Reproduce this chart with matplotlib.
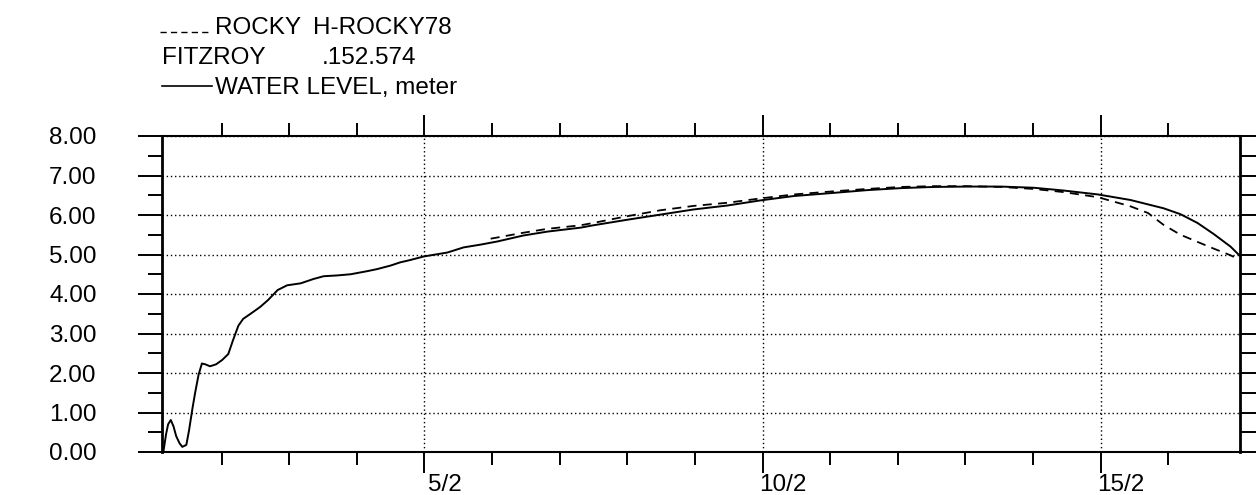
import matplotlib
matplotlib.use("Agg")
import matplotlib.pyplot as plt
from matplotlib.lines import Line2D
from matplotlib.transforms import ScaledTranslation
from matplotlib.ticker import FixedLocator

plt.rcParams['font.family'] = ['Liberation Sans', 'DejaVu Sans']

# Time axis in days of February (5.0 = 5/2 00:00)
day_level = [1.14, 1.18, 1.21, 1.25, 1.29, 1.33, 1.38, 1.42, 1.48, 1.52,
             1.57, 1.61, 1.66, 1.71, 1.76, 1.83, 1.92, 2.01, 2.10, 2.17,
             2.25, 2.32, 2.43, 2.57, 2.69, 2.83, 2.97, 3.17, 3.36, 3.51,
             3.71, 3.91, 4.16, 4.30, 4.50, 4.64, 4.79, 4.99, 5.34, 5.58,
             5.83, 6.08, 6.46, 6.82, 7.31, 7.50, 8.00, 8.49, 8.98, 9.48,
             9.97, 10.46, 11.05, 11.55, 12.04, 12.53, 13.03, 13.52, 14.01, 14.45,
             14.96, 15.44, 15.93, 16.18, 16.43, 16.67, 16.92, 17.05]
level = [0.00, 0.45, 0.70, 0.81, 0.65, 0.40, 0.22, 0.13, 0.18, 0.55,
         1.10, 1.50, 1.95, 2.24, 2.22, 2.17, 2.22, 2.33, 2.48, 2.83,
         3.20, 3.37, 3.50, 3.67, 3.85, 4.10, 4.22, 4.27, 4.38, 4.45,
         4.47, 4.50, 4.58, 4.63, 4.72, 4.80, 4.86, 4.95, 5.05, 5.18,
         5.25, 5.33, 5.48, 5.58, 5.68, 5.74, 5.88, 6.01, 6.14, 6.24,
         6.37, 6.48, 6.56, 6.63, 6.68, 6.71, 6.72, 6.72, 6.69, 6.62,
         6.52, 6.38, 6.17, 6.02, 5.80, 5.52, 5.20, 4.98]

# ROCKY H-ROCKY78 simulated level
day_rocky = [5.98, 6.46, 6.82, 7.31, 7.50, 8.00, 8.49, 8.98, 9.48, 9.97,
             10.46, 11.05, 11.55, 12.04, 12.53, 13.03, 13.52, 14.01, 14.45, 14.96,
             15.19, 15.44, 15.70, 15.93, 16.18, 16.43, 16.67, 16.92, 17.05]
rocky = [5.40, 5.55, 5.65, 5.74, 5.80, 5.97, 6.12, 6.23, 6.31, 6.42,
         6.52, 6.60, 6.66, 6.71, 6.73, 6.73, 6.71, 6.66, 6.58, 6.45,
         6.34, 6.22, 6.05, 5.75, 5.50, 5.32, 5.15, 4.98, 4.87]

x_major = [5, 10, 15]
x_major_labels = ['5/2', '10/2', '15/2']
x_minor = [2, 3, 4, 6, 7, 8, 9, 11, 12, 13, 14, 16]
y_major = [0, 1, 2, 3, 4, 5, 6, 7, 8]
y_major_labels = ['0.00', '1.00', '2.00', '3.00', '4.00', '5.00', '6.00', '7.00', '8.00']
y_half = [0.5, 1.5, 2.5, 3.5, 4.5, 5.5, 6.5, 7.5]

W, H = 1256, 495
fig = plt.figure(figsize=(W / 100, H / 100), dpi=100)
fig.patch.set_facecolor('white')


def fx(x):
    return x / W


def fy(y):
    return 1 - y / H


ax = fig.add_axes([fx(162), fy(452), (1240 - 162) / W, (452 - 136) / H])
ax.set_xlim(1.12, 17.06)
ax.set_ylim(0, 8)

ax.plot(day_level, level, color='black', lw=1.4, solid_joinstyle='round')
ax.plot(day_rocky, rocky, color='black', lw=1.3, ls=(0, (5, 3.5)))

# axis frame
for side in ['left', 'right']:
    ax.spines[side].set_linewidth(2.0)
for side in ['top', 'bottom']:
    ax.spines[side].set_linewidth(1.5)

# x ticks: top and bottom, outward
ax.set_xticks(x_major)
ax.set_xticklabels(x_major_labels)
ax.xaxis.set_minor_locator(FixedLocator(x_minor))
ax.tick_params(axis='x', which='major', direction='out', top=True, bottom=True,
               length=15, width=1.4, labelsize=17.5, pad=1)
ax.tick_params(axis='x', which='minor', direction='out', top=True, bottom=True,
               length=9.5, width=1.4)
for lab in ax.get_xticklabels():
    lab.set_transform(lab.get_transform() + ScaledTranslation(0.20, 0, fig.dpi_scale_trans))

# y ticks on the left, labelled
ax.set_yticks(y_major)
ax.set_yticklabels(y_major_labels)
ax.yaxis.set_minor_locator(FixedLocator(y_half))
ax.tick_params(axis='y', which='major', direction='out', left=True, right=False,
               length=17, width=1.4, labelsize=17.5, pad=30)
ax.tick_params(axis='y', which='minor', direction='out', left=True, right=False,
               length=10, width=1.4)

# dotted grid
ax.grid(True, which='major', axis='both', color='black', lw=1.0, ls=(0, (1, 2)))

# right-hand scale ticks
ax2 = ax.twinx()
ax2.set_ylim(0, 8)
ax2.set_yticks(y_major + y_half)
ax2.tick_params(axis='y', which='major', direction='out', right=True,
                length=12, width=1.4, labelright=False)
for side in ['left', 'right', 'top', 'bottom']:
    ax2.spines[side].set_visible(False)

# legend block
fs = 17.5
fig.add_artist(Line2D([fx(160), fx(208)], [fy(32), fy(32)], transform=fig.transFigure,
                      color='black', lw=1.0, ls=(0, (4.5, 3))))
fig.text(fx(215), fy(34), 'ROCKY', fontsize=fs, va='baseline', ha='left')
fig.text(fx(313), fy(34), 'H-ROCKY78', fontsize=fs, va='baseline', ha='left')
fig.text(fx(162), fy(64), 'FITZROY', fontsize=fs, va='baseline', ha='left')
fig.text(fx(322), fy(64), '.152.574', fontsize=fs, va='baseline', ha='left')
fig.add_artist(Line2D([fx(162), fx(212)], [fy(86), fy(86)], transform=fig.transFigure,
                      color='black', lw=1.2))
fig.text(fx(215), fy(94), 'WATER LEVEL, meter', fontsize=fs, va='baseline', ha='left')

fig.savefig('out.png', dpi=100, facecolor='white')
